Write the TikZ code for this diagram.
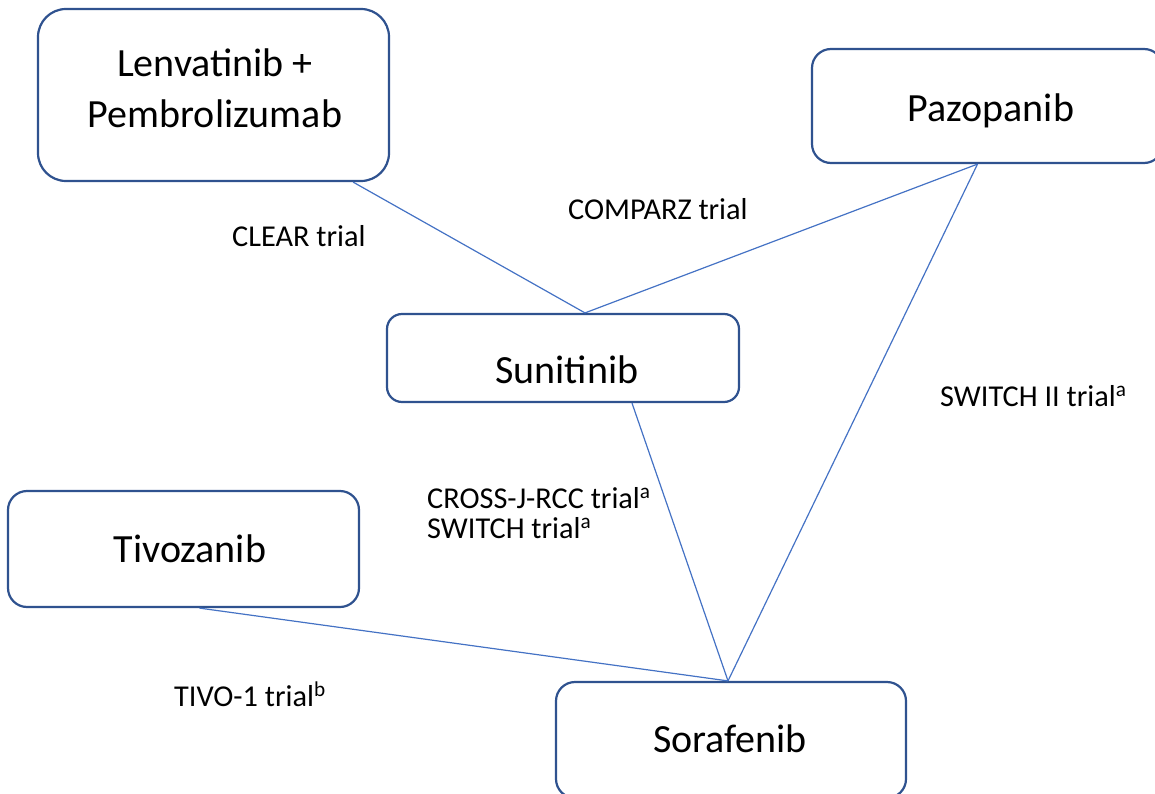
\documentclass[tikz,border=0pt]{standalone}
\usepackage{fontspec}
\setmainfont{Carlito}
\definecolor{boxblue}{HTML}{2F528F}
\definecolor{lineblue}{HTML}{4472C4}
\tikzset{
  drugbox/.style={draw=boxblue, line width=2.2pt, rounded corners=#1, inner sep=0pt, fill=white},
  drugtext/.style={font=\fontsize{40}{51}\selectfont, inner sep=0pt, anchor=base, align=center},
  triallabel/.style={font=\fontsize{30.3}{30}\selectfont, inner sep=0pt, anchor=base west, align=left},
  link/.style={draw=lineblue, line width=1.2pt}
}
\begin{document}
\begin{tikzpicture}[x=1pt,y=-1pt]
\useasboundingbox (0,0) rectangle (1155,794);
\clip (0,0) rectangle (1155,794);
% boxes
\node[drugbox=28pt, minimum width=351pt, minimum height=172pt] (lenv) at (213.5,95) {};
\node[drugbox=19pt, minimum width=351pt, minimum height=114pt] (pazo) at (987.5,106) {};
\node[drugbox=15pt, minimum width=352pt, minimum height=88pt] (suni) at (563,358) {};
\node[drugbox=19pt, minimum width=351pt, minimum height=116pt] (tivo) at (183.5,549) {};
\node[drugbox=19pt, minimum width=350pt, minimum height=116pt] (sora) at (731,740) {};
% box texts
\node[drugtext] (lenvt) at (215,128) {Lenvatinib +\\Pembrolizumab};
\node[drugtext] (pazot) at (991,122) {Pazopanib};
\node[drugtext] (sunit) at (567,383) {Sunitinib};
\node[drugtext] (tivot) at (190,562) {Tivozanib};
\node[drugtext] (sorat) at (730,752) {Sorafenib};
% connectors
\coordinate (lenvB) at ([xshift=-37pt]lenv.south east);
\coordinate (suniT) at ([xshift=22pt]suni.north);
\coordinate (pazoB) at ([xshift=-10pt]pazo.south);
\coordinate (suniB) at ([xshift=69pt]suni.south);
\coordinate (soraT) at ([xshift=-3pt]sora.north);
\coordinate (tivoB) at ([xshift=16pt]tivo.south);
\draw[link] (lenvB) -- (suniT);
\draw[link] (pazoB) -- (suniT);
\draw[link] (pazoB) -- (soraT);
\draw[link] (suniB) -- (soraT);
\draw[link] (tivoB) -- (soraT);
% trial labels
\node[triallabel] (clear) at (232,247) {CLEAR trial};
\node[triallabel] (comparz) at (568,220) {COMPARZ trial};
\node[triallabel] (switch2) at (940,406) {SWITCH II trial\textsuperscript{a}};
\node[triallabel] (cross) at (427,538) {CROSS-J-RCC trial\textsuperscript{a}\\SWITCH trial\textsuperscript{a}};
\node[triallabel] (tivo1) at (174,706) {TIVO-1 trial\textsuperscript{b}};
\end{tikzpicture}
\end{document}
